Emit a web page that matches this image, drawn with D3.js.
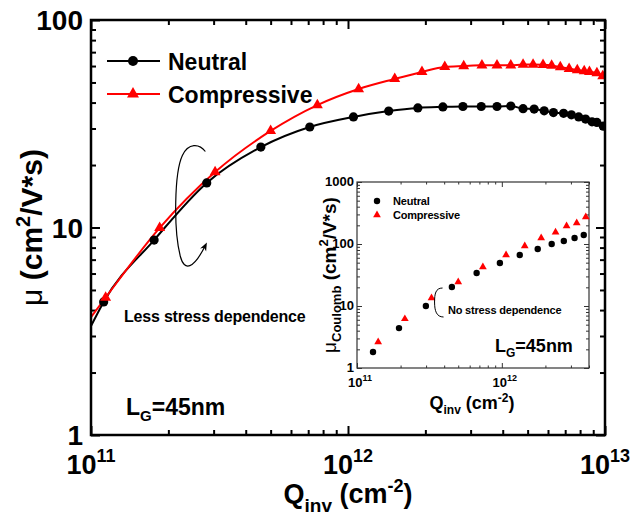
<!DOCTYPE html>
<html>
<head>
<meta charset="utf-8">
<script src="https://cdn.jsdelivr.net/npm/d3@7"></script>
<style>
  html, body { margin: 0; padding: 0; background: #fff; }
  svg { display: block; font-family: "Liberation Sans", Arial, sans-serif; }
</style>
</head>
<body>
<svg id="chart" width="632" height="525"></svg>
<script>
// Effective mobility vs inversion charge (main panel)
const neutralQ = [1.0e11, 1.12e11, 1.76e11, 2.82e11, 4.58e11, 7.1e11, 1.05e12, 1.44e12, 1.87e12, 2.34e12, 2.8e12, 3.3e12, 3.8e12, 4.3e12, 4.8e12, 5.3e12, 5.8e12, 6.3e12, 6.9e12, 7.4e12, 7.9e12, 8.4e12, 8.9e12, 9.3e12, 9.85e12];
const neutralMu = [3.35, 4.38, 8.7, 16.4, 24.4, 30.5, 34.1, 36.4, 37.7, 38.1, 38.3, 38.3, 38.3, 38.5, 37.4, 37.2, 36.5, 35.8, 35.5, 34.9, 34.1, 33.3, 32.3, 32.1, 30.8];
const compressiveQ = [1.0e11, 1.14e11, 1.85e11, 3.04e11, 5.0e11, 7.6e11, 1.1e12, 1.52e12, 1.94e12, 2.38e12, 2.82e12, 3.32e12, 3.8e12, 4.3e12, 4.8e12, 5.25e12, 5.74e12, 6.2e12, 6.7e12, 7.25e12, 7.8e12, 8.3e12, 8.7e12, 9.3e12, 9.8e12];
const compressiveMu = [3.7, 4.6, 9.95, 18.5, 29.2, 38.9, 46.5, 52.0, 56.2, 59.4, 60.0, 60.5, 60.5, 60.5, 61.0, 61.0, 60.8, 60.3, 59.3, 58.2, 57.4, 56.8, 56.2, 55.5, 53.7];

// Coulomb-limited mobility (inset)
const insetNeutralQ = [1.29e11, 1.95e11, 2.99e11, 4.52e11, 6.7e11, 9.7e11, 1.33e12, 1.77e12, 2.21e12, 2.68e12, 3.18e12, 3.68e12];
const insetNeutralMu = [1.81, 4.4, 10.0, 20.2, 34.0, 49.4, 66.5, 83.0, 100, 112, 125, 140];
const insetCompressiveQ = [1.4e11, 2.14e11, 3.27e11, 5.0e11, 7.4e11, 1.07e12, 1.44e12, 1.87e12, 2.35e12, 2.8e12, 3.29e12, 3.8e12];
const insetCompressiveMu = [2.63, 6.2, 13.5, 24.4, 42.6, 66.5, 93, 125, 155, 195, 218, 272];

const seriesNames = ["Neutral", "Compressive"];
const seriesColors = ["#000000", "#ff0000"];

const mainXTicks = [1e11, 1e12, 1e13];
const mainXExp = ["11", "12", "13"];
const mainYTicks = [1, 10, 100];
const mainYLabels = ["1", "10", "100"];
const insetXTicks = [1e11, 1e12];
const insetXExp = ["11", "12"];
const insetYTicks = [1, 10, 100, 1000];
const insetYLabels = ["1", "10", "100", "1000"];

const svg = d3.select("#chart");

// ---------- main panel ----------
const L = 91, R = 605, T = 20, B = 435;
const x = d3.scaleLog().domain([1e11, 1e13]).range([L, R]);
const y = d3.scaleLog().domain([1, 100]).range([B, T]);

function minorTicks(lo, hi) {
  const out = [];
  for (let d = lo; d < hi; d *= 10) for (let k = 2; k <= 9; k++) out.push(d * k);
  return out;
}

svg.append("defs").append("clipPath").attr("id", "mainClip")
  .append("rect").attr("x", L).attr("y", T).attr("width", R - L).attr("height", B - T);

// ticks (inward, on all four sides)
function drawTicks(g, axisFn, scale, values, size) {
  g.call(axisFn(scale).tickValues(values).tickSize(size).tickFormat(""))
    .call(s => s.select(".domain").remove());
}
const axes = svg.append("g");
const mxMinor = minorTicks(1e11, 1e13), myMinor = minorTicks(1, 100);
[
  [d3.axisBottom, x, mainXTicks, -9, `translate(0,${B})`],
  [d3.axisBottom, x, mxMinor, -5, `translate(0,${B})`],
  [d3.axisTop, x, mainXTicks, -9, `translate(0,${T})`],
  [d3.axisTop, x, mxMinor, -5, `translate(0,${T})`],
  [d3.axisLeft, y, mainYTicks, -9, `translate(${L},0)`],
  [d3.axisLeft, y, myMinor, -5, `translate(${L},0)`],
  [d3.axisRight, y, mainYTicks, -9, `translate(${R},0)`],
  [d3.axisRight, y, myMinor, -5, `translate(${R},0)`]
].forEach(([fn, sc, vals, sz, tr]) => {
  const g = axes.append("g").attr("transform", tr);
  drawTicks(g, fn, sc, vals, sz);
  g.selectAll("line").attr("stroke", "#000").attr("stroke-width", 2);
});

// data lines
const lineGen = (xs, ys) => d3.line()
  .x(d => xs(d[0])).y(d => ys(d[1]))
  .curve(d3.curveMonotoneX);

const mainSeries = [
  d3.zip(neutralQ, neutralMu),
  d3.zip(compressiveQ, compressiveMu)
];
const plot = svg.append("g").attr("clip-path", "url(#mainClip)");
mainSeries.forEach((pts, i) => {
  plot.append("path").datum(pts)
    .attr("d", lineGen(x, y))
    .attr("fill", "none").attr("stroke", seriesColors[i]).attr("stroke-width", 2);
});
// markers (the point sitting on the left axis carries no symbol)
plot.selectAll("circle.n").data(mainSeries[0].filter(d => d[0] > 1e11)).join("circle")
  .attr("cx", d => x(d[0])).attr("cy", d => y(d[1])).attr("r", 4.6).attr("fill", seriesColors[0]);
const triMain = d3.symbol(d3.symbolTriangle, 52);
plot.selectAll("path.c").data(mainSeries[1].filter(d => d[0] > 1e11)).join("path")
  .attr("transform", d => `translate(${x(d[0])},${y(d[1])})`)
  .attr("d", triMain).attr("fill", seriesColors[1]);

// frame
svg.append("rect").attr("x", L).attr("y", T).attr("width", R - L).attr("height", B - T)
  .attr("fill", "none").attr("stroke", "#000").attr("stroke-width", 2.5);

// tick labels
svg.append("g").selectAll("text").data(mainYTicks).join("text")
  .attr("x", L - 8).attr("y", d => y(d) + 10)
  .attr("text-anchor", "end").attr("font-size", 28).attr("font-weight", "bold")
  .text((d, i) => mainYLabels[i]);
svg.append("g").selectAll("text").data(mainXTicks).join("text")
  .attr("x", d => x(d)).attr("y", 474)
  .attr("text-anchor", "middle").attr("font-size", 27).attr("font-weight", "bold")
  .each(function (d, i) {
    const t = d3.select(this);
    t.append("tspan").text("10");
    t.append("tspan").attr("font-size", 18).attr("dy", -12).text(mainXExp[i]);
  });

// axis titles
const xt = svg.append("text").attr("x", (L + R) / 2).attr("y", 503)
  .attr("text-anchor", "middle").attr("font-weight", "bold").attr("font-size", 27);
xt.append("tspan").text("Q");
xt.append("tspan").attr("font-size", 19).attr("dy", 9).text("inv");
xt.append("tspan").attr("dy", -9).text(" (cm");
xt.append("tspan").attr("font-size", 18).attr("dy", -11).text("-2");
xt.append("tspan").attr("dy", 11).text(")");

const yt = svg.append("text").attr("transform", `translate(42,${(T + B) / 2}) rotate(-90)`)
  .attr("text-anchor", "middle").attr("font-weight", "bold").attr("font-size", 30);
yt.append("tspan").attr("font-weight", "normal").text("\u03bc");
yt.append("tspan").text(" (cm");
yt.append("tspan").attr("font-size", 20).attr("dy", -12).text("2");
yt.append("tspan").attr("dy", 12).text("/V*s)");

// legend
const legY = [61, 94];
seriesNames.forEach((name, i) => {
  const g = svg.append("g");
  g.append("line").attr("x1", 107).attr("x2", 160).attr("y1", legY[i]).attr("y2", legY[i])
    .attr("stroke", seriesColors[i]).attr("stroke-width", 2);
  if (i === 0) g.append("circle").attr("cx", 133).attr("cy", legY[i]).attr("r", 5).attr("fill", seriesColors[i]);
  else g.append("path").attr("transform", `translate(133,${legY[i]})`)
    .attr("d", d3.symbol(d3.symbolTriangle, 62)).attr("fill", seriesColors[i]);
  g.append("text").attr("x", 168).attr("y", legY[i] + 8.5)
    .attr("font-size", 23).attr("font-weight", "bold").text(name);
});

// annotations
svg.append("defs").append("marker").attr("id", "arrowHead")
  .attr("viewBox", "0 0 10 10").attr("refX", 6).attr("refY", 5)
  .attr("markerWidth", 7).attr("markerHeight", 7).attr("orient", "auto")
  .append("path").attr("d", "M0,1 L10,5 L0,9 L3,5 Z").attr("fill", "#000");

const ax = x(2.0e11), ay = y(10);   // anchor for the curled arrow
svg.append("path")
  .attr("d", `M${ax + 37},${ay - 76} C${ax + 31},${ay - 84} ${ax + 20},${ay - 85} ${ax + 14},${ay - 72}
              C${ax + 6},${ay - 55} ${ax + 5},${ay + 2} ${ax + 12},${ay + 29}
              C${ax + 16},${ay + 44} ${ax + 25},${ay + 42} ${ax + 37},${ay + 18}`)
  .attr("fill", "none").attr("stroke", "#000").attr("stroke-width", 1.2)
  .attr("marker-end", "url(#arrowHead)");

svg.append("text").attr("x", 124).attr("y", 322)
  .attr("font-size", 16).attr("font-weight", "bold").attr("letter-spacing", -0.2)
  .text("Less stress dependence");

const lg = svg.append("text").attr("x", 126).attr("y", 415)
  .attr("font-size", 23).attr("font-weight", "bold");
lg.append("tspan").text("L");
lg.append("tspan").attr("font-size", 15).attr("dy", 6).text("G");
lg.append("tspan").attr("dy", -6).text("=45nm");

// ---------- inset ----------
const iL = 357, iR = 589, iT = 182, iB = 368;
const ix = d3.scaleLog().domain([1e11, 4e12]).range([iL, iR]);
const iy = d3.scaleLog().domain([1, 1000]).range([iB, iT]);

svg.append("rect").attr("x", iL).attr("y", iT).attr("width", iR - iL).attr("height", iB - iT)
  .attr("fill", "#fff");

const ixMinor = minorTicks(1e11, 1e12).concat([2e12, 3e12, 4e12]);
const iyMinor = minorTicks(1, 1000);
const iaxes = svg.append("g");
[
  [d3.axisBottom, ix, insetXTicks, -5, `translate(0,${iB})`],
  [d3.axisBottom, ix, ixMinor, -2.5, `translate(0,${iB})`],
  [d3.axisTop, ix, insetXTicks, -5, `translate(0,${iT})`],
  [d3.axisTop, ix, ixMinor, -2.5, `translate(0,${iT})`],
  [d3.axisLeft, iy, insetYTicks, -5, `translate(${iL},0)`],
  [d3.axisLeft, iy, iyMinor, -3, `translate(${iL},0)`],
  [d3.axisRight, iy, insetYTicks, -5, `translate(${iR},0)`],
  [d3.axisRight, iy, iyMinor, -3, `translate(${iR},0)`]
].forEach(([fn, sc, vals, sz, tr]) => {
  const g = iaxes.append("g").attr("transform", tr);
  drawTicks(g, fn, sc, vals, sz);
  g.selectAll("line").attr("stroke", "#333").attr("stroke-width", 1);
});
svg.append("rect").attr("x", iL).attr("y", iT).attr("width", iR - iL).attr("height", iB - iT)
  .attr("fill", "none").attr("stroke", "#333").attr("stroke-width", 1.2);

svg.append("g").selectAll("circle").data(d3.zip(insetNeutralQ, insetNeutralMu)).join("circle")
  .attr("cx", d => ix(d[0])).attr("cy", d => iy(d[1])).attr("r", 3.2).attr("fill", seriesColors[0]);
const triInset = d3.symbol(d3.symbolTriangle, 26);
svg.append("g").selectAll("path").data(d3.zip(insetCompressiveQ, insetCompressiveMu)).join("path")
  .attr("transform", d => `translate(${ix(d[0])},${iy(d[1])})`)
  .attr("d", triInset).attr("fill", seriesColors[1]);

// inset tick labels
svg.append("g").selectAll("text").data(insetYTicks).join("text")
  .attr("x", iL - 3).attr("y", d => iy(d) + 4)
  .attr("text-anchor", "end").attr("font-size", 13).attr("font-weight", "bold")
  .text((d, i) => insetYLabels[i]);
svg.append("g").selectAll("text").data(insetXTicks).join("text")
  .attr("x", d => ix(d) + 3).attr("y", 387)
  .attr("text-anchor", "middle").attr("font-size", 13).attr("font-weight", "bold")
  .each(function (d, i) {
    const t = d3.select(this);
    t.append("tspan").text("10");
    t.append("tspan").attr("font-size", 9).attr("dy", -6).text(insetXExp[i]);
  });

// inset titles
const ixt = svg.append("text").attr("x", 472).attr("y", 409)
  .attr("text-anchor", "middle").attr("font-weight", "bold").attr("font-size", 18);
ixt.append("tspan").text("Q");
ixt.append("tspan").attr("font-size", 12).attr("dy", 5).text("inv");
ixt.append("tspan").attr("dy", -5).text(" (cm");
ixt.append("tspan").attr("font-size", 12).attr("dy", -7).text("-2");
ixt.append("tspan").attr("dy", 7).text(")");

const iyt = svg.append("text").attr("transform", `translate(336,275) rotate(-90)`)
  .attr("text-anchor", "middle").attr("font-weight", "bold").attr("font-size", 19);
iyt.append("tspan").attr("font-weight", "normal").text("\u03bc");
iyt.append("tspan").attr("font-size", 13).attr("dy", 5).text("Coulomb");
iyt.append("tspan").attr("dy", -5).text(" (cm");
iyt.append("tspan").attr("font-size", 13).attr("dy", -8).text("2");
iyt.append("tspan").attr("dy", 8).text("/V*s)");

// inset legend
const iLegY = [201, 215];
svg.append("circle").attr("cx", 377).attr("cy", iLegY[0]).attr("r", 3.2).attr("fill", seriesColors[0]);
svg.append("path").attr("transform", `translate(377,${iLegY[1]})`).attr("d", triInset).attr("fill", seriesColors[1]);
seriesNames.forEach((name, i) => {
  svg.append("text").attr("x", 393).attr("y", iLegY[i] + 4)
    .attr("font-size", 11).attr("font-weight", "bold").attr("letter-spacing", -0.2).text(name);
});

// bracket + note
const bx = ix(3.6e11), by = iy(10);
svg.append("path")
  .attr("d", `M${bx + 5},${by - 18} C${bx - 2},${by - 18} ${bx - 3},${by - 12} ${bx - 3},${by - 4}
              C${bx - 3},${by + 5} ${bx - 1},${by + 11} ${bx + 6},${by + 11}`)
  .attr("fill", "none").attr("stroke", "#000").attr("stroke-width", 1);
svg.append("text").attr("x", 448).attr("y", 314)
  .attr("font-size", 11).attr("font-weight", "bold").attr("letter-spacing", -0.2)
  .text("No stress dependence");

const ilg = svg.append("text").attr("x", 495).attr("y", 352)
  .attr("font-size", 18).attr("font-weight", "bold");
ilg.append("tspan").text("L");
ilg.append("tspan").attr("font-size", 12).attr("dy", 5).text("G");
ilg.append("tspan").attr("dy", -5).text("=45nm");
</script>
</body>
</html>
